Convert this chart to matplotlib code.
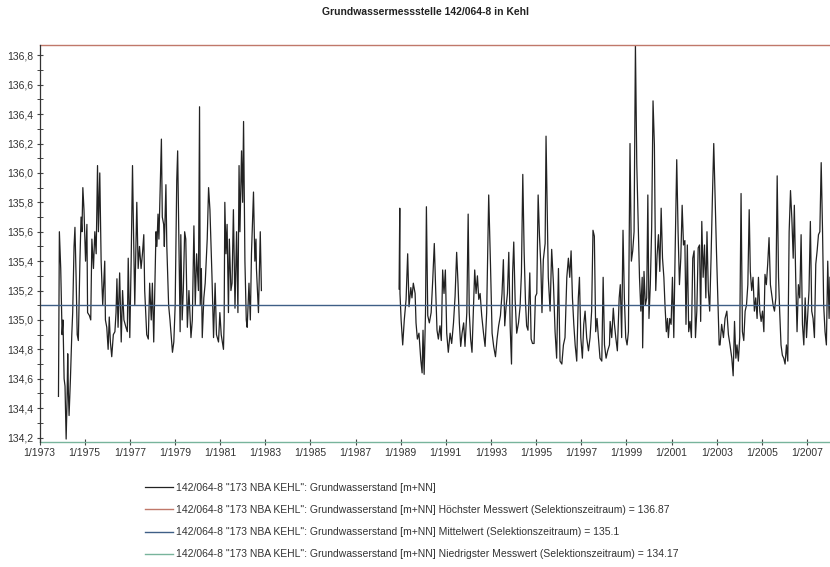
import numpy as np
import matplotlib
matplotlib.use('Agg')
from matplotlib import pyplot as plt
from matplotlib.ticker import FuncFormatter, MultipleLocator

plt.rcParams['font.family'] = ['Liberation Sans', 'DejaVu Sans']

# readings 1973-1983 (decimal year, level m+NN)
years_a = [1973.84, 1973.88, 1973.94, 1974.00, 1974.04, 1974.09, 1974.13, 1974.18, 1974.22, 1974.25,
           1974.28, 1974.31, 1974.37, 1974.43, 1974.47, 1974.53, 1974.57, 1974.62, 1974.67, 1974.72,
           1974.79, 1974.84, 1974.88, 1974.92, 1974.97, 1975.04, 1975.10, 1975.13, 1975.21, 1975.27,
           1975.32, 1975.39, 1975.45, 1975.51, 1975.57, 1975.61, 1975.67, 1975.73, 1975.80, 1975.89,
           1975.92, 1975.98, 1976.04, 1976.09, 1976.14, 1976.20, 1976.27, 1976.34, 1976.39, 1976.43,
           1976.48, 1976.55, 1976.62, 1976.68, 1976.74, 1976.83, 1976.89, 1976.93, 1977.00, 1977.06,
           1977.12, 1977.16, 1977.22, 1977.31, 1977.37, 1977.43, 1977.50, 1977.56, 1977.62, 1977.66,
           1977.75, 1977.82, 1977.88, 1977.95, 1978.00, 1978.06, 1978.12, 1978.16, 1978.20, 1978.25,
           1978.29, 1978.40, 1978.44, 1978.50, 1978.53, 1978.60, 1978.64, 1978.72, 1978.78, 1978.89,
           1978.95, 1979.01, 1979.08, 1979.12, 1979.17, 1979.23, 1979.26, 1979.32, 1979.37, 1979.43,
           1979.48, 1979.55, 1979.62, 1979.71, 1979.77, 1979.84, 1979.90, 1979.96, 1980.04, 1980.09,
           1980.12, 1980.17, 1980.21, 1980.28, 1980.34, 1980.43, 1980.49, 1980.55, 1980.64, 1980.71,
           1980.78, 1980.84, 1980.93, 1980.99, 1981.05, 1981.15, 1981.18, 1981.21, 1981.26, 1981.31,
           1981.37, 1981.41, 1981.48, 1981.53, 1981.59, 1981.66, 1981.73, 1981.79, 1981.84, 1981.88,
           1981.95, 1982.00, 1982.04, 1982.10, 1982.16, 1982.20, 1982.28, 1982.34, 1982.39, 1982.48,
           1982.54, 1982.59, 1982.61, 1982.70, 1982.78, 1982.83]
level_a = [134.48, 135.60, 135.35, 134.90, 135.00, 134.60, 134.55, 134.19, 134.45, 134.77,
           134.50, 134.35, 134.60, 134.90, 135.05, 135.50, 135.63, 135.30, 134.90, 134.86,
           135.40, 135.70, 135.60, 135.90, 135.75, 135.40, 135.65, 135.05, 135.03, 135.00,
           135.55, 135.35, 135.60, 135.45, 136.05, 135.60, 136.00, 135.40, 135.10, 135.40,
           135.00, 134.95, 134.80, 135.02, 134.85, 134.75, 134.90, 134.92, 135.05, 135.28,
           134.95, 135.32, 134.85, 135.20, 135.00, 134.95, 134.92, 135.42, 134.88, 135.40,
           136.05, 135.65, 135.10, 135.80, 135.35, 135.50, 135.35, 135.45, 135.58, 135.20,
           134.90, 134.87, 135.25, 135.00, 135.25, 134.85, 135.30, 135.60, 135.50, 135.72,
           135.55, 136.23, 135.70, 135.65, 135.50, 135.92, 135.50, 135.10, 135.00, 134.78,
           134.85, 135.10, 135.95, 136.15, 135.60, 134.92, 135.58, 135.00, 135.20, 135.60,
           135.55, 134.95, 135.20, 134.88, 135.00, 135.64, 135.10, 135.45, 135.20, 136.45,
           135.10, 135.35, 134.88, 135.15, 135.25, 135.55, 135.90, 135.75, 135.30, 134.88,
           135.25, 134.90, 134.85, 135.05, 134.90, 134.80, 135.00, 135.80, 135.45, 135.65,
           135.05, 135.55, 135.20, 135.25, 135.75, 135.08, 135.60, 135.05, 136.05, 135.60,
           136.15, 135.80, 136.35, 135.40, 135.00, 134.95, 135.25, 135.00, 135.45, 135.87,
           135.40, 135.55, 135.35, 135.05, 135.60, 135.20]

# readings 1988-2008
years_b = [1988.93, 1988.96, 1988.97, 1989.02, 1989.09, 1989.16, 1989.24, 1989.31, 1989.37, 1989.45,
           1989.50, 1989.56, 1989.64, 1989.68, 1989.74, 1989.81, 1989.89, 1989.95, 1989.99, 1990.04,
           1990.10, 1990.14, 1990.20, 1990.27, 1990.35, 1990.42, 1990.49, 1990.55, 1990.61, 1990.67,
           1990.74, 1990.80, 1990.86, 1990.92, 1990.98, 1991.04, 1991.11, 1991.19, 1991.26, 1991.34,
           1991.41, 1991.48, 1991.54, 1991.60, 1991.66, 1991.72, 1991.79, 1991.85, 1991.93, 1991.99,
           1992.04, 1992.10, 1992.16, 1992.22, 1992.28, 1992.34, 1992.40, 1992.46, 1992.52, 1992.59,
           1992.67, 1992.74, 1992.81, 1992.90, 1992.98, 1993.05, 1993.12, 1993.20, 1993.27, 1993.34,
           1993.42, 1993.49, 1993.55, 1993.61, 1993.67, 1993.73, 1993.79, 1993.85, 1993.91, 1993.96,
           1994.01, 1994.07, 1994.14, 1994.22, 1994.29, 1994.35, 1994.41, 1994.47, 1994.53, 1994.58,
           1994.64, 1994.72, 1994.78, 1994.84, 1994.91, 1994.97, 1995.03, 1995.09, 1995.15, 1995.21,
           1995.26, 1995.32, 1995.40, 1995.44, 1995.54, 1995.62, 1995.69, 1995.77, 1995.84, 1995.91,
           1995.99, 1996.06, 1996.14, 1996.21, 1996.28, 1996.36, 1996.43, 1996.49, 1996.55, 1996.61,
           1996.67, 1996.73, 1996.80, 1996.87, 1996.92, 1996.98, 1997.05, 1997.11, 1997.17, 1997.24,
           1997.32, 1997.39, 1997.46, 1997.52, 1997.58, 1997.64, 1997.70, 1997.76, 1997.83, 1997.91,
           1997.97, 1998.03, 1998.10, 1998.17, 1998.25, 1998.28, 1998.35, 1998.42, 1998.47, 1998.53,
           1998.60, 1998.68, 1998.73, 1998.79, 1998.85, 1998.91, 1998.97, 1999.03, 1999.09, 1999.16,
           1999.22, 1999.28, 1999.34, 1999.40, 1999.46, 1999.52, 1999.58, 1999.64, 1999.70, 1999.72,
           1999.78, 1999.84, 1999.90, 1999.95, 2000.00, 2000.06, 2000.12, 2000.18, 2000.24, 2000.30,
           2000.36, 2000.42, 2000.48, 2000.54, 2000.60, 2000.66, 2000.71, 2000.77, 2000.82, 2000.86,
           2000.92, 2000.98, 2001.04, 2001.10, 2001.16, 2001.23, 2001.29, 2001.35, 2001.41, 2001.47,
           2001.53, 2001.59, 2001.64, 2001.70, 2001.76, 2001.82, 2001.88, 2001.94, 2002.00, 2002.06,
           2002.12, 2002.18, 2002.24, 2002.29, 2002.34, 2002.40, 2002.46, 2002.52, 2002.57, 2002.63,
           2002.69, 2002.75, 2002.81, 2002.87, 2002.93, 2002.99, 2003.05, 2003.11, 2003.15, 2003.22,
           2003.30, 2003.37, 2003.45, 2003.52, 2003.59, 2003.67, 2003.73, 2003.79, 2003.85, 2003.90,
           2003.96, 2004.02, 2004.08, 2004.14, 2004.20, 2004.26, 2004.32, 2004.38, 2004.44, 2004.49,
           2004.55, 2004.61, 2004.67, 2004.73, 2004.79, 2004.85, 2004.91, 2004.97, 2005.03, 2005.09,
           2005.14, 2005.20, 2005.26, 2005.32, 2005.38, 2005.44, 2005.50, 2005.56, 2005.62, 2005.68,
           2005.74, 2005.79, 2005.85, 2005.91, 2005.97, 2006.03, 2006.09, 2006.15, 2006.21, 2006.27,
           2006.33, 2006.39, 2006.44, 2006.50, 2006.56, 2006.62, 2006.68, 2006.74, 2006.80, 2006.86,
           2006.92, 2006.98, 2007.04, 2007.09, 2007.15, 2007.21, 2007.27, 2007.33, 2007.39, 2007.45,
           2007.51, 2007.57, 2007.63, 2007.69, 2007.74, 2007.80, 2007.86, 2007.92, 2007.98, 2008.02]
level_b = [135.21, 135.76, 135.18, 135.00, 134.83, 135.00, 135.14, 135.45, 135.09, 135.22,
           135.15, 135.25, 135.18, 134.98, 134.87, 134.91, 134.73, 134.64, 134.93, 134.63,
           135.05, 135.77, 135.03, 134.98, 135.05, 135.27, 135.52, 135.21, 134.93, 134.87,
           134.96, 134.86, 135.34, 135.18, 135.34, 134.91, 134.78, 134.91, 134.84, 134.98,
           135.16, 135.46, 135.25, 134.98, 134.82, 134.91, 134.98, 134.82, 135.05, 135.72,
           135.05, 134.87, 134.78, 135.07, 135.34, 135.18, 135.30, 135.14, 135.18, 135.03,
           134.91, 134.82, 135.05, 135.85, 135.37, 134.91, 134.82, 134.75, 134.87, 134.96,
           135.03, 135.18, 135.41, 134.96, 135.09, 135.18, 135.46, 134.96, 134.70, 135.32,
           135.53, 135.14, 134.91, 134.98, 135.09, 135.32, 135.99, 135.46, 135.12, 134.96,
           134.93, 135.32, 134.87, 134.84, 134.84, 135.16, 135.18, 135.85, 135.57, 135.37,
           135.05, 135.41, 135.52, 136.25, 135.29, 135.06, 135.48, 135.24, 134.92, 134.74,
           135.35, 134.72, 134.70, 134.83, 134.88, 135.29, 135.42, 135.29, 135.47, 135.15,
           134.97, 134.83, 134.72, 135.15, 135.29, 134.88, 134.74, 134.97, 135.06, 134.88,
           134.79, 134.88, 135.06, 135.61, 135.57, 134.92, 135.01, 134.88, 134.74, 134.72,
           135.29, 134.83, 134.74, 134.79, 134.83, 134.99, 134.88, 135.08, 134.97, 134.88,
           134.79, 135.15, 135.24, 134.88, 135.61, 135.15, 134.88, 134.83, 134.92, 136.20,
           135.40, 135.47, 135.60, 136.87, 136.06, 135.67, 135.29, 135.06, 135.29, 134.81,
           135.33, 135.10, 135.15, 135.85, 135.01, 135.24, 135.63, 136.49, 136.19, 135.20,
           135.44, 135.58, 135.33, 135.76, 135.42, 135.29, 135.10, 134.92, 135.01, 134.88,
           135.01, 134.97, 135.29, 134.88, 135.47, 136.09, 135.60, 135.24, 135.42, 135.78,
           135.51, 135.54, 134.97, 135.51, 134.92, 134.99, 134.88, 135.42, 135.47, 134.88,
           135.06, 135.49, 135.51, 134.99, 135.67, 135.29, 135.51, 135.15, 135.60, 135.20,
           135.06, 135.42, 135.83, 136.20, 135.83, 135.47, 135.15, 134.83, 134.83, 134.97,
           134.88, 135.01, 135.06, 134.90, 134.83, 134.74, 134.62, 134.99, 134.74, 134.83,
           134.72, 134.88, 135.86, 134.92, 134.86, 135.06, 135.10, 135.24, 135.75, 135.33,
           135.20, 135.29, 135.06, 135.15, 135.01, 135.29, 135.06, 134.99, 135.06, 134.92,
           135.31, 135.24, 135.38, 135.56, 135.24, 135.17, 135.10, 135.06, 135.15, 135.98,
           135.29, 135.06, 134.83, 134.76, 134.74, 134.70, 134.83, 134.72, 135.60, 135.88,
           135.69, 135.42, 135.78, 135.29, 134.92, 135.24, 135.15, 135.58, 134.97, 134.83,
           135.15, 134.88, 135.06, 135.20, 135.67, 135.06, 135.01, 134.88, 135.38, 135.47,
           135.58, 135.60, 136.07, 135.60, 135.10, 134.92, 134.83, 135.40, 135.01, 135.29]

max_level = 136.87
mean_level = 135.1
min_level = 134.17
year_ticks = list(range(1973, 2008, 2))

label_base = '142/064-8 "173 NBA KEHL": Grundwasserstand [m+NN]'
legend_labels = [
    label_base,
    label_base + ' Höchster Messwert (Selektionszeitraum) = 136.87',
    label_base + ' Mittelwert (Selektionszeitraum) = 135.1',
    label_base + ' Niedrigster Messwert (Selektionszeitraum) = 134.17',
]

fig = plt.figure(figsize=(8.3, 5.67), dpi=100)
ax = fig.add_axes([0.0476, 0.2205, 0.9524, 0.7001])

line, = ax.plot(years_a, level_a, color='#222222', lw=0.9)
ax.plot(years_b, level_b, color='#222222', lw=0.9)
hmax = ax.axhline(max_level, color='#c0786a', lw=1.0, clip_on=False)
hmean = ax.axhline(mean_level, color='#3f5f86', lw=1.0)
hmin = ax.axhline(min_level, color='#78b49c', lw=1.0, clip_on=False)

ax.set_xlim(1973, 2008.02)
ax.set_ylim(min_level, max_level)

#only the left spine is drawn, the reference lines close the box
for side in ['top', 'right', 'bottom']:
    ax.spines[side].set_visible(False)
ax.spines['left'].set_color('#333333')
ax.spines['left'].set_linewidth(0.9)

ax.set_xticks(year_ticks)
ax.xaxis.set_major_formatter(FuncFormatter(lambda v, p: '1/{}'.format(int(round(v)))))
ax.yaxis.set_major_locator(MultipleLocator(0.2))
ax.yaxis.set_minor_locator(MultipleLocator(0.1))
ax.yaxis.set_major_formatter(FuncFormatter(lambda v, p: '{:.1f}'.format(v).replace('.', ',')))

ax.tick_params(axis='both', which='major', direction='inout', length=5, width=0.8,
               color='#444444', labelsize=7.5, labelcolor='#333333')
ax.tick_params(axis='y', which='minor', direction='inout', length=4, width=0.7, color='#444444')
ax.tick_params(axis='x', pad=2)
ax.tick_params(axis='y', pad=2)

fig.text(0.513, 0.978, 'Grundwassermessstelle 142/064-8 in Kehl', ha='center', va='center',
         fontsize=7.5, fontweight='bold', color='#222222')

fig.legend([line, hmax, hmean, hmin], legend_labels, loc='upper left',
           bbox_to_anchor=(0.168, 0.158), frameon=False, fontsize=7.5,
           labelspacing=1.18, handlelength=2.7, handletextpad=0.35, borderpad=0,
           labelcolor='#333333')

fig.savefig('out.png', dpi=100)
